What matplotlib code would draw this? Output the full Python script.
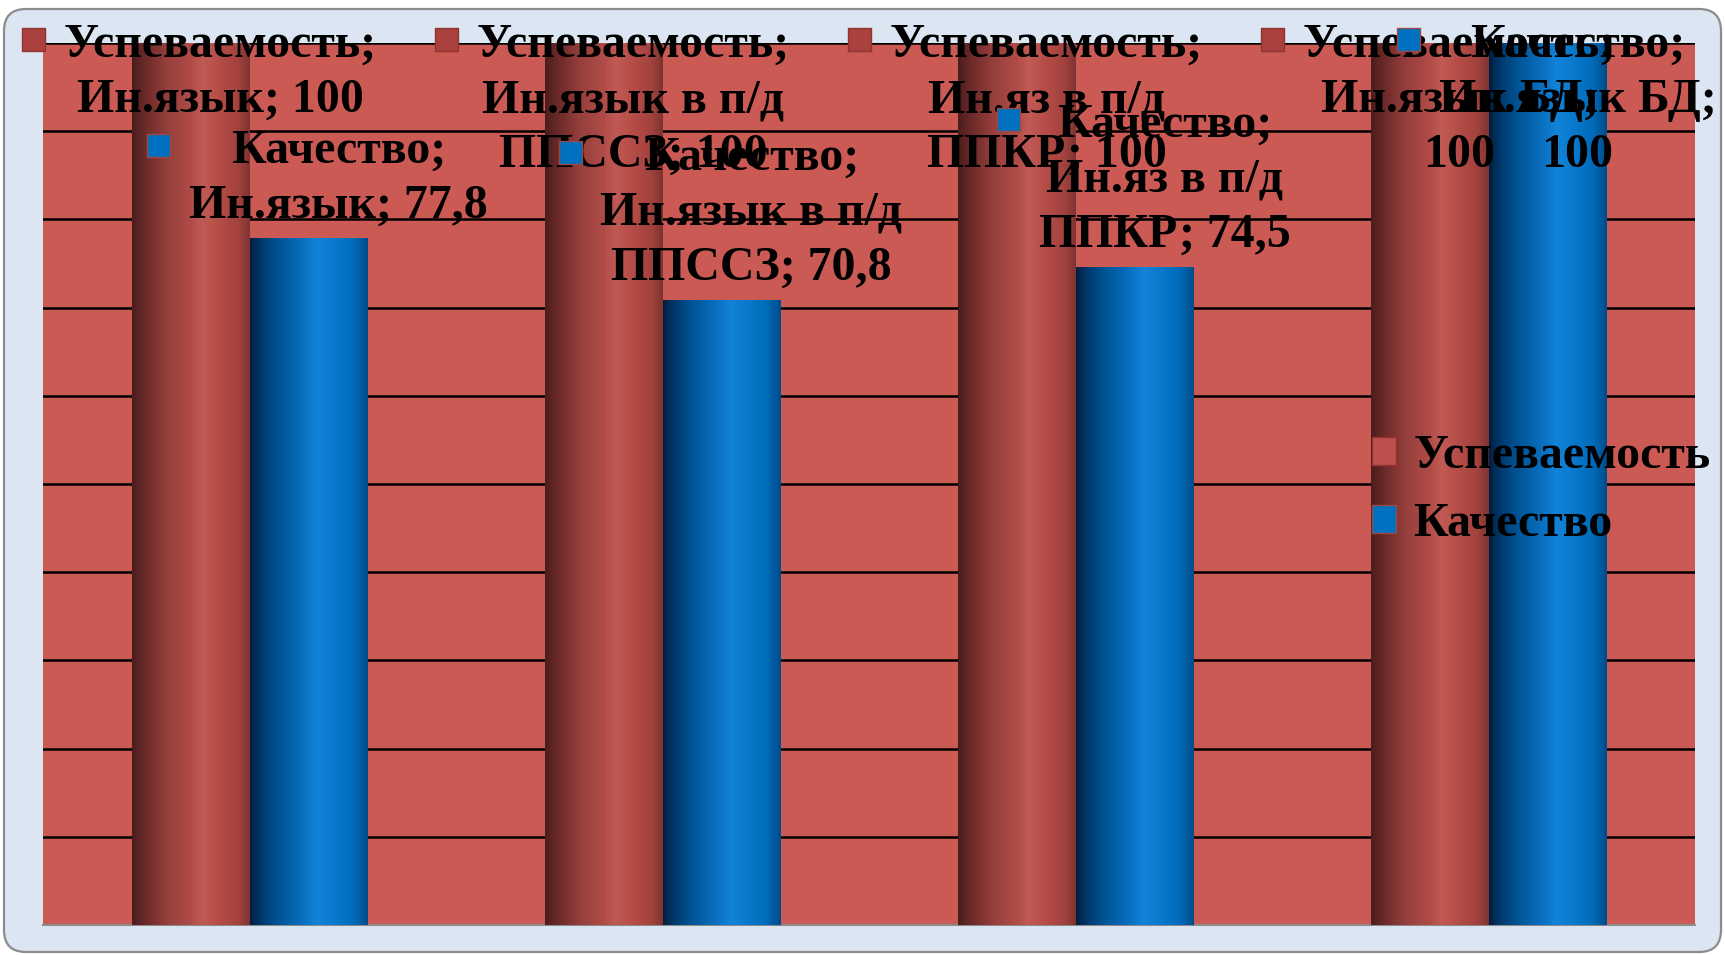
import numpy as np
import matplotlib
matplotlib.use("Agg")
import matplotlib.pyplot as plt
from matplotlib.patches import FancyBboxPatch, Rectangle
from matplotlib.colors import LinearSegmentedColormap
from matplotlib.transforms import IdentityTransform


# ---- data ----------------------------------------------------------
categories  = ["Ин.язык", "Ин.язык в п/д\nППССЗ", "Ин.яз в п/д\nППКР", "Ин.язык БД"]
value_sep   = ["; ", "; ", "; ", ";\n"]    # how the value follows the category in a data label
series      = ["Успеваемость", "Качество"]
uspevaemost = [100, 100, 100, 100]
kachestvo   = [77.8, 70.8, 74.5, 100]


# ---- style ---------------------------------------------------------
W, H, DPI = 1725, 955, 100
BG        = "#DCE6F2"
PLOT_BG   = "#CB5A55"
BAR_W     = 1 / 3.5                      # gap width 150 %
FONT      = dict(family="Liberation Serif", weight="bold", size=34.5)

red_cyl = LinearSegmentedColormap.from_list("red_cyl", [
    (0.00, "#4A1D1D"), (0.12, "#6E2B2A"), (0.30, "#963F3C"), (0.50, "#B04C48"),
    (0.60, "#C15A54"), (0.75, "#B54C47"), (0.90, "#A3423E"), (1.00, "#7E3431")])
blue_cyl = LinearSegmentedColormap.from_list("blue_cyl", [
    (0.00, "#001F3F"), (0.10, "#003A6E"), (0.25, "#005597"), (0.45, "#0A6FBF"),
    (0.57, "#1283D8"), (0.72, "#0A79CC"), (0.88, "#006BB8"), (1.00, "#004C8A")])

series_style = [
    dict(cmap=red_cyl,  face="#C0504D", key="#AA413E", key_edge="#8E3532"),
    dict(cmap=blue_cyl, face="#0070C0", key="#0070C0", key_edge="#9C4A47"),
]


def fmt(v):
    return f"{v:g}".replace(".", ",")


# ---- figure + rounded frame ---------------------------------------
fig = plt.figure(figsize=(W / DPI, H / DPI), dpi=DPI)
fig.patch.set_facecolor("white")
frame = FancyBboxPatch((4, 3), W - 8, H - 12, boxstyle="round,pad=0,rounding_size=22",
                       facecolor=BG, edgecolor="#8C8C8C", linewidth=1.6,
                       transform=IdentityTransform(), zorder=0)
fig.add_artist(frame)

ax = fig.add_axes([43 / W, (H - 925) / H, (1695 - 43) / W, (925 - 43) / H])
ax.set_facecolor(PLOT_BG)

x = np.arange(len(categories))
all_vals = [uspevaemost, kachestvo]
grad = np.linspace(0, 1, 256).reshape(1, -1)

for s, (name, vals, st) in enumerate(zip(series, all_vals, series_style)):
    xs = x + (s - 0.5) * BAR_W
    ax.bar(xs, vals, BAR_W, color=st["face"], edgecolor="none", label=name, zorder=2)
    for xi, v in zip(xs, vals):
        ax.imshow(grad, extent=(xi - BAR_W / 2, xi + BAR_W / 2, 0, v), aspect="auto",
                  cmap=st["cmap"], interpolation="bicubic", zorder=3)

ax.set_xlim(-0.5, len(categories) - 0.5)
ax.set_ylim(0, 100)
ax.set_yticks(np.arange(0, 101, 10))
ax.grid(axis="y", color="black", linewidth=1.8)
ax.set_axisbelow(True)
ax.tick_params(length=0, labelleft=False, labelbottom=False)
for side in ("top", "left", "right"):
    ax.spines[side].set_visible(False)
ax.spines["bottom"].set_color("#8C8C8C")
ax.spines["bottom"].set_linewidth(1.5)

leg = ax.legend(loc="upper left", bbox_to_anchor=(1372 / W, 1 - 434 / H),
                bbox_transform=fig.transFigure, frameon=False, prop=FONT,
                handlelength=0.5, handleheight=0.5, handletextpad=0.36,
                labelspacing=0.5, borderpad=0, borderaxespad=0)
for h, st in zip(leg.legend_handles, series_style):
    h.set_edgecolor(st["key_edge"])
    h.set_linewidth(1)


# ---- data labels (key + text, placed above each bar) ---------------
fig.canvas.draw()
renderer = fig.canvas.get_renderer()
LINE_STEP = 55

for s, (name, vals, st) in enumerate(zip(series, all_vals, series_style)):
    for i, v in enumerate(vals):
        xc = x[i] + (s - 0.5) * BAR_W
        px, py = ax.transData.transform((xc, v))
        lines = [f"{name};"] + (categories[i] + value_sep[i] + fmt(v)).split("\n")
        last_base = (H - py) - 21
        first_base = max(last_base - (len(lines) - 1) * LINE_STEP, 57)
        tx = px + 30
        texts = [fig.text(tx, H - (first_base + j * LINE_STEP), ln, ha="center", va="baseline",
                          transform=IdentityTransform(), zorder=6 + s, **FONT)
                 for j, ln in enumerate(lines)]
        wmax = max(t.get_window_extent(renderer).width for t in texts)
        key = Rectangle((tx - wmax / 2 - 19 - 23, H - (first_base - 18) - 12), 23, 23,
                        facecolor=st["key"], edgecolor=st["key_edge"], linewidth=1,
                        transform=IdentityTransform(), zorder=6.5 + s)
        fig.add_artist(key)

fig.savefig("out.png", dpi=DPI)
